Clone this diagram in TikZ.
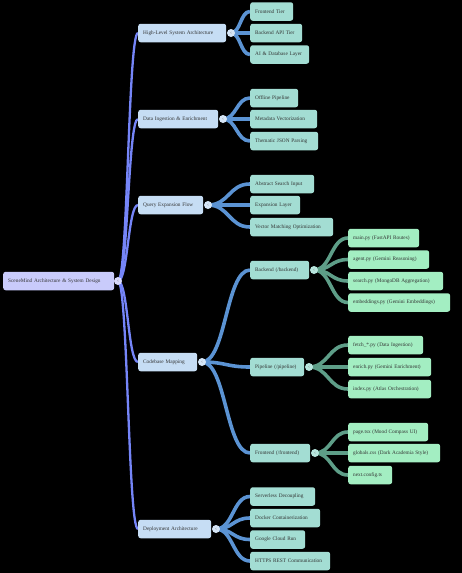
\documentclass[tikz,border=0pt]{standalone}
\usepackage{fontspec}
\setmainfont{Liberation Serif}
\usetikzlibrary{calc}
\pgfdeclarelayer{bg}
\pgfsetlayers{bg,main}
\definecolor{bgc}{HTML}{000000}
\definecolor{rootfill}{HTML}{C9CBFB}
\definecolor{lonefill}{HTML}{C6DDF4}
\definecolor{ltwofill}{HTML}{A3DDD3}
\definecolor{lthreefill}{HTML}{A3EEC2}
\definecolor{rootcirc}{HTML}{D9DAFC}
\definecolor{lonecirc}{HTML}{D6E6F7}
\definecolor{ltwocirc}{HTML}{B8E6DE}
\definecolor{ezero}{HTML}{7585F8}
\definecolor{eone}{HTML}{5B93D3}
\definecolor{etwo}{HTML}{5E9E88}
\definecolor{txt}{HTML}{333333}
\tikzset{
  box/.style={anchor=west, rounded corners=2.5pt, minimum height=18.5pt, inner xsep=5pt, inner ysep=0pt, align=left, text=txt, font=\fontsize{5.3}{6}\selectfont},
  rootbox/.style={box, fill=rootfill},
  lone/.style={box, fill=lonefill},
  ltwo/.style={box, fill=ltwofill},
  lthree/.style={box, fill=lthreefill},
  circ/.style={circle, minimum size=8pt, inner sep=0pt, text=txt!70, font=\fontsize{4}{4}\selectfont},
  croot/.style={circ, fill=rootcirc},
  cone/.style={circ, fill=lonecirc},
  ctwo/.style={circ, fill=ltwocirc},
  curv/.style={to path={let \p1=(\tikztostart), \p2=(\tikztotarget), \n1={(\x1+\x2)/2} in .. controls (\n1,\y1) and (\n1,\y2) .. (\tikztotarget)}},
  ezs/.style={draw=ezero, line width=2.3pt, curv},
  eos/.style={draw=eone, line width=3.6pt, curv},
  ets/.style={draw=etwo, line width=3.6pt, curv},
}
\begin{document}
\begin{tikzpicture}[x=1pt,y=-1pt]
\begin{pgfonlayer}{bg}
\fill[bgc] (0,0) rectangle (462,573);
\end{pgfonlayer}
\useasboundingbox (0,0) rectangle (462,573);

% root
\node[rootbox, text width=101pt] (root) at (3,281) {SceneMind Architecture \& System Design};
\node[croot] (rootc) at (118,281) {<};

% level 1
\node[lone, text width=78pt] (hl) at (138,33) {High-Level System Architecture};
\node[lone, text width=70pt] (di) at (138,119) {Data Ingestion \& Enrichment};
\node[lone, text width=55pt] (qe) at (138,205) {Query Expansion Flow};
\node[lone, text width=49pt] (cm) at (138,362) {Codebase Mapping};
\node[lone, text width=63pt] (da) at (138,529) {Deployment Architecture};
\node[cone] (hlc) at (231,33) {<};
\node[cone] (dic) at (223,119) {<};
\node[cone] (qec) at (208,205) {<};
\node[cone] (cmc) at (202,362) {<};
\node[cone] (dac) at (216,529) {<};

% level 2
\node[ltwo, text width=33pt] (ft) at (250,11.5) {Frontend Tier};
\node[ltwo, text width=42pt] (ba) at (250,33) {Backend API Tier};
\node[ltwo, text width=49pt] (ai) at (250,54.5) {AI \& Database Layer};
\node[ltwo, text width=38pt] (op) at (250,98) {Offline Pipeline};
\node[ltwo, text width=57pt] (mv) at (250,119) {Metadata Vectorization};
\node[ltwo, text width=58pt] (tj) at (250,141) {Thematic JSON Parsing};
\node[ltwo, text width=54pt] (as) at (250,184) {Abstract Search Input};
\node[ltwo, text width=40pt] (el) at (250,205) {Expansion Layer};
\node[ltwo, text width=73pt] (vm) at (250,227) {Vector Matching Optimization};
\node[ltwo, text width=49pt] (be) at (250,270) {Backend (/backend)};
\node[ltwo, text width=44pt] (pl) at (250,367) {Pipeline (/pipeline)};
\node[ltwo, text width=50pt] (fe) at (250,453) {Frontend (/frontend)};
\node[ltwo, text width=55pt] (sd) at (250,496.5) {Serverless Decoupling};
\node[ltwo, text width=60pt] (dk) at (250,518) {Docker Containerization};
\node[ltwo, text width=45pt] (gc) at (250,539.5) {Google Cloud Run};
\node[ltwo, text width=70pt] (hr) at (250,561) {HTTPS REST Communication};
\node[ctwo] (bec) at (314,270) {<};
\node[ctwo] (plc) at (309,367) {<};
\node[ctwo] (fec) at (315,453) {<};

% level 3
\node[lthree, text width=61pt] (mp) at (348,238) {main.py (FastAPI Routes)};
\node[lthree, text width=71pt] (ag) at (348,259.5) {agent.py (Gemini Reasoning)};
\node[lthree, text width=85pt] (se) at (348,281) {search.py (MongoDB Aggregation)};
\node[lthree, text width=92pt] (em) at (348,302.5) {embeddings.py (Gemini Embeddings)};
\node[lthree, text width=65pt] (fp) at (348,345) {fetch\_*.py (Data Ingestion)};
\node[lthree, text width=73pt] (en) at (348,367) {enrich.py (Gemini Enrichment)};
\node[lthree, text width=73pt] (ix) at (348,389) {index.py (Atlas Orchestration)};
\node[lthree, text width=70pt] (pg) at (348,432) {page.tsx (Mood Compass UI)};
\node[lthree, text width=82pt] (gl) at (348,453) {globals.css (Dark Academia Style)};
\node[lthree, text width=34pt] (nc) at (348,475) {next.config.ts};

\begin{pgfonlayer}{bg}
\foreach \t in {hl,di,qe,cm,da}
  \draw[ezs] (rootc.center) to (\t.west);
\foreach \t in {ft,ba,ai}
  \draw[eos] (hlc.center) to (\t.west);
\foreach \t in {op,mv,tj}
  \draw[eos] (dic.center) to (\t.west);
\foreach \t in {as,el,vm}
  \draw[eos] (qec.center) to (\t.west);
\foreach \t in {be,pl,fe}
  \draw[eos] (cmc.center) to (\t.west);
\foreach \t in {sd,dk,gc,hr}
  \draw[eos] (dac.center) to (\t.west);
\foreach \t in {mp,ag,se,em}
  \draw[ets] (bec.center) to (\t.west);
\foreach \t in {fp,en,ix}
  \draw[ets] (plc.center) to (\t.west);
\foreach \t in {pg,gl,nc}
  \draw[ets] (fec.center) to (\t.west);
\end{pgfonlayer}
\end{tikzpicture}
\end{document}
